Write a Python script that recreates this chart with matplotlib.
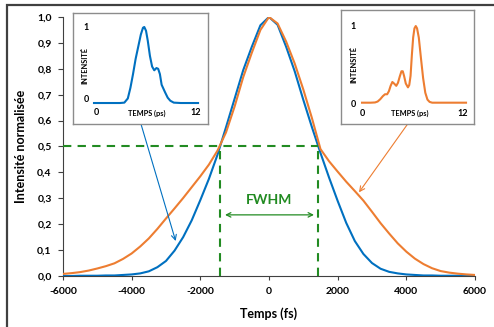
import numpy as np
import matplotlib.pyplot as plt
from matplotlib.patches import Rectangle

plt.rcParams['font.family'] = ['Lato', 'DejaVu Sans']
plt.rcParams['font.weight'] = 'bold'
plt.rcParams['axes.unicode_minus'] = False

# Couleurs (style Excel)
bleu = '#0070C0'
orange = '#ED7D31'
vert = '#228B22'

# Courbes principales : intensité normalisée en fonction du temps (fs), pas de 250 fs
temps_fs = np.arange(-6000, 6001, 250)
impulsion_bleue = [0.000, 0.000, 0.001, 0.001, 0.001, 0.002, 0.002, 0.004, 0.006,
                   0.010, 0.018, 0.034, 0.058, 0.098, 0.150, 0.215, 0.293, 0.375,
                   0.468, 0.575, 0.685, 0.795, 0.885, 0.968, 1.000, 0.970, 0.885,
                   0.790, 0.680, 0.575, 0.475, 0.380, 0.290, 0.205, 0.135, 0.085,
                   0.050, 0.028, 0.016, 0.010, 0.006, 0.004, 0.002, 0.002, 0.001,
                   0.001, 0.001, 0.000, 0.000]
impulsion_orange = [0.008, 0.011, 0.015, 0.021, 0.029, 0.038, 0.049, 0.066, 0.087,
                    0.114, 0.145, 0.182, 0.222, 0.261, 0.301, 0.343, 0.385, 0.430,
                    0.484, 0.555, 0.655, 0.768, 0.862, 0.950, 1.000, 0.975, 0.905,
                    0.820, 0.720, 0.610, 0.490, 0.443, 0.403, 0.364, 0.328, 0.291,
                    0.248, 0.204, 0.164, 0.126, 0.094, 0.067, 0.046, 0.030, 0.019,
                    0.013, 0.009, 0.006, 0.004]

# Largeur à mi-hauteur
niveau_mi_hauteur = 0.5
fwhm_gauche = -1420
fwhm_droite = 1440

# Encart gauche (impulsion bleue, temps en ps)
temps_ps_bleu = [0, 1, 2, 3, 3.5, 3.9, 4.2, 4.5, 4.8, 5.1, 5.4, 5.65, 5.8, 6.0, 6.2,
                 6.45, 6.7, 6.95, 7.2, 7.4, 7.6, 7.8, 8.0, 8.2, 8.5, 8.8, 9.2, 10, 11, 12]
intensite_bleu = [0, 0, 0, 0, 0.005, 0.06, 0.2, 0.38, 0.58, 0.74, 0.9, 0.99, 1.0, 0.95,
                  0.82, 0.62, 0.48, 0.43, 0.46, 0.45, 0.38, 0.24, 0.19, 0.14, 0.07,
                  0.03, 0.005, 0, 0, 0]

# Encart droit (impulsion orange, temps en ps)
temps_ps_orange = [0, 1, 1.5, 1.8, 2.1, 2.4, 2.65, 2.9, 3.1, 3.3, 3.5, 3.7, 3.95, 4.15,
                   4.35, 4.55, 4.7, 4.85, 5.05, 5.3, 5.45, 5.6, 5.75, 5.9, 6.05, 6.2,
                   6.35, 6.55, 6.8, 7.05, 7.3, 7.55, 7.8, 8.1, 9, 10, 11, 12]
intensite_orange = [0, 0, 0.003, 0.015, 0.045, 0.085, 0.11, 0.11, 0.15, 0.22, 0.27,
                    0.25, 0.22, 0.26, 0.34, 0.41, 0.41, 0.35, 0.25, 0.2, 0.23, 0.35,
                    0.62, 0.85, 0.97, 1.0, 0.97, 0.85, 0.58, 0.32, 0.13, 0.04, 0.01,
                    0, 0, 0, 0, 0]

fig = plt.figure(figsize=(4.94, 3.27), dpi=100)

# cadre du graphique (coin haut gauche visible)
fig.patches.append(Rectangle((0.0148, -0.5), 2, 1.4847, fill=False, edgecolor='#404040',
                             lw=1.6, transform=fig.transFigure, clip_on=False))

ax = fig.add_axes([0.1275, 0.156, 0.834, 0.792])
ax.plot(temps_fs, impulsion_bleue, color=bleu, lw=1.5, zorder=3)
ax.plot(temps_fs, impulsion_orange, color=orange, lw=1.5, zorder=3)

ax.hlines(niveau_mi_hauteur, -6000, fwhm_droite, colors=vert, lw=1.5,
          linestyles=(0, (4, 3)), zorder=4)
ax.vlines([fwhm_gauche, fwhm_droite], 0, niveau_mi_hauteur, colors=vert, lw=1.5,
          linestyles=(0, (4, 3)), zorder=4)

ax.annotate('', xy=(fwhm_gauche + 140, 0.236), xytext=(fwhm_droite - 130, 0.236),
            arrowprops=dict(arrowstyle='<->', color=vert, lw=0.9, mutation_scale=8,
                            shrinkA=0, shrinkB=0))
ax.text(0, 0.293, 'FWHM', ha='center', va='center', color=vert, fontsize=10,
        fontweight='bold')

# flèches reliant les encarts aux courbes
ax.annotate('', xy=(-2718, 0.135), xytext=(-3729, 0.587),
            arrowprops=dict(arrowstyle='->', color=bleu, lw=0.8, mutation_scale=9,
                            shrinkA=0, shrinkB=0))
ax.annotate('', xy=(2622, 0.323), xytext=(4040, 0.587),
            arrowprops=dict(arrowstyle='->', color=orange, lw=0.8, mutation_scale=9,
                            shrinkA=0, shrinkB=0))

ax.set_xlim(-6000, 6000)
ax.set_ylim(0, 1.0)
ax.set_xticks(np.arange(-6000, 6001, 2000))
yt = np.arange(0, 1.01, 0.1)
ax.set_yticks(yt)
ax.set_yticklabels([f'{v:.1f}'.replace('.', ',') for v in yt])
for s in ['top', 'right']:
    ax.spines[s].set_visible(False)
for s in ['left', 'bottom']:
    ax.spines[s].set_color('#404040')
    ax.spines[s].set_linewidth(0.8)
ax.tick_params(axis='y', direction='out', length=3.6, width=0.8, color='#404040',
               labelsize=7.5, pad=4.5)
ax.tick_params(axis='x', direction='out', length=3, width=0.8, color='#404040',
               labelsize=7.5, pad=5)
ax.set_xlabel('Temps (fs)', fontsize=9, fontweight='bold')
ax.set_ylabel('Intensité normalisée', fontsize=9, fontweight='bold')
ax.yaxis.set_label_coords(-0.087, 0.5)
ax.xaxis.set_label_coords(0.5, -0.12)


def encart(rect, t, v, couleur, xlim, ylim, pos):
    a = fig.add_axes(rect)
    a.plot(t, v, color=couleur, lw=1.5)
    a.set_xlim(*xlim)
    a.set_ylim(*ylim)
    a.set_xticks([])
    a.set_yticks([])
    for s in a.spines.values():
        s.set_color('#8c8c8c')
        s.set_linewidth(1.0)
    a.text(pos[0], pos[1], '1', transform=a.transAxes, fontsize=6.5, ha='center', va='center')
    a.text(pos[0], pos[2], '0', transform=a.transAxes, fontsize=6.5, ha='center', va='center')
    a.text(pos[3], pos[5], '0', transform=a.transAxes, fontsize=6.5, ha='center', va='center')
    a.text(pos[4], pos[5], '12', transform=a.transAxes, fontsize=6.5, ha='center', va='center')
    a.text(pos[6], pos[5], 'TEMPS (ps)', transform=a.transAxes, fontsize=5.3,
           ha='center', va='center')
    a.text(pos[7], pos[8], 'INTENSITÉ', transform=a.transAxes, fontsize=5.3,
           ha='center', va='center', rotation=90)
    return a


encart([0.1478, 0.6208, 0.2733, 0.3404], temps_ps_bleu, intensite_bleu, bleu,
       (-2.42, 13.15), (-0.276, 1.188),
       (0.096, 0.863, 0.216, 0.176, 0.911, 0.099, 0.548, 0.089, 0.53))
encart([0.6897, 0.6208, 0.2698, 0.3486], temps_ps_orange, intensite_orange, orange,
       (-2.46, 12.92), (-0.278, 1.209),
       (0.092, 0.851, 0.175, 0.163, 0.917, 0.096, 0.52, 0.10, 0.518))

fig.savefig('out.png', dpi=100)
